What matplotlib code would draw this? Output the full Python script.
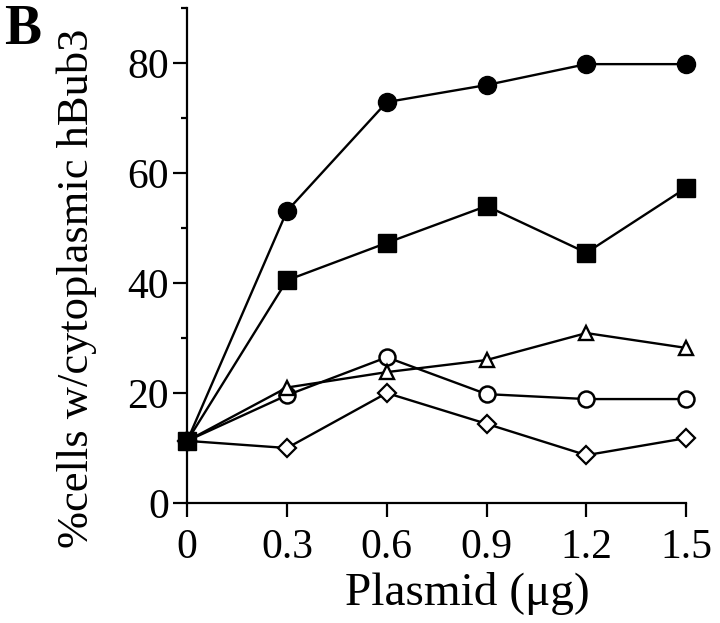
import matplotlib
matplotlib.use("Agg")
import matplotlib.pyplot as plt
from matplotlib.ticker import MultipleLocator

plasmid = [0, 0.3, 0.6, 0.9, 1.2, 1.5]
filled_circle = [11.3, 53.1, 72.9, 76.0, 79.8, 79.8]
filled_square = [11.3, 40.5, 47.3, 54.0, 45.5, 57.3]
open_triangle = [11.3, 21.0, 23.8, 26.0, 30.9, 28.2]
open_circle = [11.3, 19.6, 26.5, 19.8, 18.9, 18.9]
open_diamond = [11.3, 10.0, 20.0, 14.4, 8.7, 11.8]
xticks = [0, 0.3, 0.6, 0.9, 1.2, 1.5]
xticklabels = ["0", "0.3", "0.6", "0.9", "1.2", "1.5"]
yticks = [0, 20, 40, 60, 80]

plt.rcParams['font.family'] = ['Liberation Serif', 'DejaVu Serif']
fig = plt.figure(figsize=(7.2, 6.23), dpi=100)
ax = fig.add_axes([0.26, 0.1926, 0.693, 0.7945])

lw = 1.7
common = dict(color='black', lw=lw, clip_on=False)
ax.plot(plasmid, open_diamond, marker='D', ms=8.8,
        mfc='white', mec='black', mew=1.6, zorder=3, **common)
ax.plot(plasmid, open_circle, marker='o', ms=11.5,
        mfc='white', mec='black', mew=1.8, zorder=3, **common)
ax.plot(plasmid, open_triangle, marker='^', ms=9.5,
        mfc='white', mec='black', mew=1.7, zorder=3, **common)
ax.plot(plasmid, filled_circle, marker='o', ms=13,
        mfc='black', mec='black', zorder=4, **common)
ax.plot(plasmid, filled_square, marker='s', ms=13,
        mfc='black', mec='black', zorder=5, **common)

ax.set_xlim(0, 1.5)
ax.set_ylim(0, 90)
ax.set_xticks(xticks)
ax.set_xticklabels(xticklabels)
ax.set_yticks(yticks)
ax.yaxis.set_minor_locator(MultipleLocator(10))
for s in ['top', 'right']:
    ax.spines[s].set_visible(False)
for s in ['left', 'bottom']:
    ax.spines[s].set_linewidth(1.6)
ax.tick_params(which='major', direction='out', length=10, width=1.6, labelsize=30, pad=3)
ax.tick_params(axis='x', which='major', pad=8)
ax.tick_params(which='minor', direction='out', length=4, width=1.6)

ax.set_xlabel("Plasmid (μg)", fontsize=34)
ax.xaxis.set_label_coords(0.562, -0.14)
ax.set_ylabel("%cells w/cytoplasmic hBub3", fontsize=32)
ax.yaxis.set_label_coords(-0.18, 0.434)

fig.text(0.005, 0.993, "B", fontsize=40, fontweight='bold', va='top', ha='left')

fig.savefig("out.png", dpi=100)
